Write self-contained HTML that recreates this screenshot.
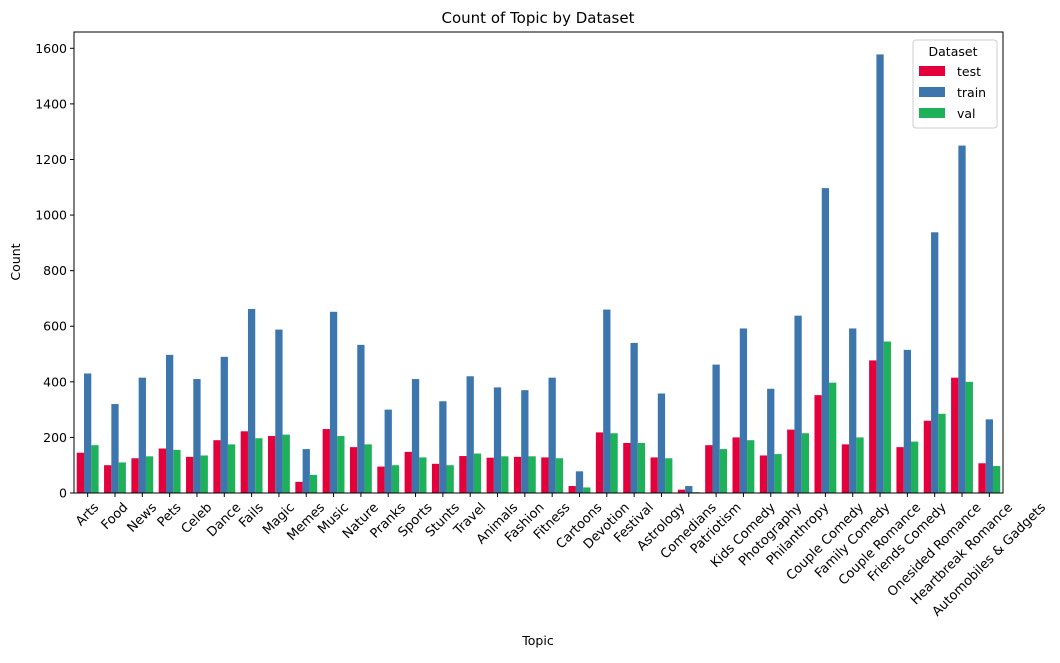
<!DOCTYPE html>
<html><head><meta charset="utf-8"><style>
body{margin:0;background:#fff}
svg{font-family:"DejaVu Sans","Liberation Sans",sans-serif}
</style></head><body>
<svg id="chart" width="1060" height="658" xmlns="http://www.w3.org/2000/svg">
<text x="538" y="23" text-anchor="middle" font-size="15">Count of Topic by Dataset</text>
<text x="538" y="645" text-anchor="middle" font-size="12.5">Topic</text>
<text x="20" y="262" text-anchor="middle" font-size="12.5" transform="rotate(-90 20 262)">Count</text>
<g id="bars"></g><g id="axes"></g>
<g>
<rect x="913" y="40" width="84" height="88" rx="3" fill="#fff" stroke="#ccc"/>
<text x="953" y="56" text-anchor="middle" font-size="12.5">Dataset</text>
<rect x="919" y="66" width="26" height="10" fill="#e4003b"/>
<text x="957" y="76" font-size="12.5">test</text>
<rect x="919" y="87" width="26" height="10" fill="#3d76ac"/>
<text x="957" y="97" font-size="12.5">train</text>
<rect x="919" y="108" width="26" height="10" fill="#1fb15a"/>
<text x="957" y="118" font-size="12.5">val</text>
</g>
</svg>
<script>
const categories=["Arts","Food","News","Pets","Celeb","Dance","Fails","Magic","Memes","Music","Nature","Pranks","Sports","Stunts","Travel","Animals","Fashion","Fitness","Cartoons","Devotion","Festival","Astrology","Comedians","Patriotism","Kids Comedy","Photography","Philanthropy","Couple Comedy","Family Comedy","Couple Romance","Friends Comedy","Onesided Romance","Heartbreak Romance","Automobiles & Gadgets"];
const testVals=[145,100,125,160,130,190,222,205,40,230,165,95,148,105,133,127,130,128,25,218,180,128,12,172,200,135,228,352,175,477,165,260,415,107];
const trainVals=[430,320,415,497,410,490,662,588,158,652,533,300,410,330,420,380,370,415,78,660,540,358,25,462,592,375,638,1097,592,1578,515,938,1250,265];
const valVals=[172,110,132,155,135,175,197,210,65,205,175,100,128,100,142,132,132,125,20,215,180,125,3,158,190,140,215,397,200,545,185,285,400,97];
const yTicks=[0,200,400,600,800,1000,1200,1400,1600];
const NS="http://www.w3.org/2000/svg";
const L=74,R=1003,T=32,B=493;
const step=(R-L)/categories.length;
function xC(i){return L+(i+0.5)*step;}
function y(v){return B-v*(B-48.3)/1600;}
const bars=document.getElementById('bars'),axes=document.getElementById('axes');
const series=[[testVals,"#e4003b","test"],[trainVals,"#3d76ac","train"],[valVals,"#1fb15a","val"]];
const bw=step*0.8/3;
series.forEach((s,k)=>{s[0].forEach((v,i)=>{
 const r=document.createElementNS(NS,'rect');
 r.setAttribute('x',xC(i)-step*0.4+k*bw);r.setAttribute('width',bw);
 r.setAttribute('y',y(v));r.setAttribute('height',B-y(v));r.setAttribute('fill',s[1]);
 
 
 bars.appendChild(r);});});
const frame=document.createElementNS(NS,'rect');
frame.setAttribute('x',L);frame.setAttribute('y',T);frame.setAttribute('width',R-L);frame.setAttribute('height',B-T);
frame.setAttribute('fill','none');frame.setAttribute('stroke','#000');frame.setAttribute('stroke-width','1');


axes.appendChild(frame);
yTicks.forEach(t=>{
 const l=document.createElementNS(NS,'line');
 l.setAttribute('x1',L-4);l.setAttribute('x2',L);l.setAttribute('y1',y(t));l.setAttribute('y2',y(t));l.setAttribute('stroke','#000');
 
 
 axes.appendChild(l);
 const tx=document.createElementNS(NS,'text');
 tx.setAttribute('x',L-7);tx.setAttribute('y',y(t)+4.5);tx.setAttribute('text-anchor','end');tx.setAttribute('font-size','12.5');
 tx.textContent=t;
 
 
 axes.appendChild(tx);});
categories.forEach((c,i)=>{
 const x=xC(i);
 const l=document.createElementNS(NS,'line');
 l.setAttribute('x1',x);l.setAttribute('x2',x);l.setAttribute('y1',B);l.setAttribute('y2',B+4);l.setAttribute('stroke','#000');
 
 
 axes.appendChild(l);
 const tx=document.createElementNS(NS,'text');
 tx.setAttribute('text-anchor','middle');tx.setAttribute('dominant-baseline','central');tx.setAttribute('font-size','13');
 tx.textContent=c;
 
 
 axes.appendChild(tx);
 const w=tx.getComputedTextLength();
 const h=13;
 const cy=B+8+(w+h)*0.7071/2;
 tx.setAttribute('x',x);tx.setAttribute('y',cy);
 tx.setAttribute('transform','rotate(-45 '+x+' '+cy+')');});
</script>
</body></html>
